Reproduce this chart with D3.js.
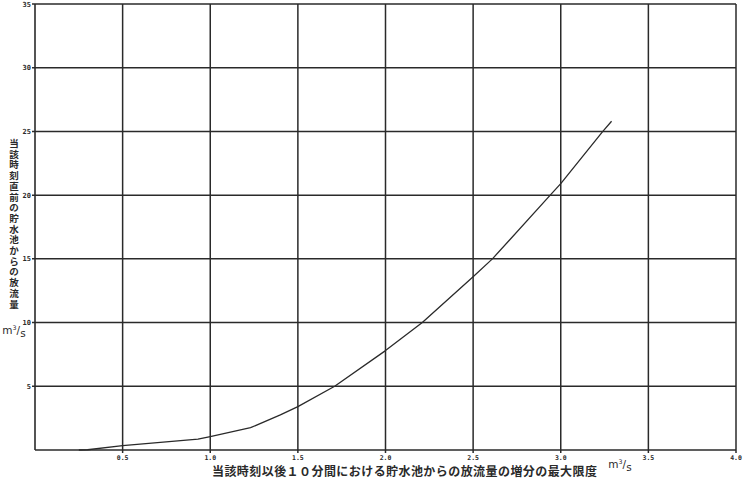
<!DOCTYPE html>
<html><head><meta charset="utf-8">
<script src="https://cdn.jsdelivr.net/npm/d3@7"></script>
<style>body{margin:0;background:#fff}svg{display:block}</style>
</head><body>
<svg id="c" width="744" height="484"></svg>
<script>
const xTicks = [0.5, 1.0, 1.5, 2.0, 2.5, 3.0, 3.5, 4.0];
const xTickLabels = ["0.5", "1.0", "1.5", "2.0", "2.5", "3.0", "3.5", "4.0"];
const yTicks = [5, 10, 15, 20, 25, 30, 35];
const yTickLabels = ["5", "10", "15", "20", "25", "30", "35"];
const curveX = [0.25, 0.3, 0.5, 0.93, 1.0, 1.23, 1.4, 1.5, 1.71, 2.0, 2.21, 2.5, 2.61, 2.94, 3.0, 3.24, 3.29];
const curveY = [0, 0.02, 0.35, 0.85, 1.05, 1.75, 2.75, 3.4, 5.0, 7.8, 10.0, 13.6, 15.0, 20.0, 20.9, 25.0, 25.8];
const yTitle = "当該時刻直前の貯水池からの放流量";
const xTitle = "当該時刻以後１０分間における貯水池からの放流量の増分の最大限度";

const svg = d3.select("#c");
const x = d3.scaleLinear().domain([0, 4]).range([35, 736]);
const y = d3.scaleLinear().domain([0, 35]).range([450, 4]);
const ink = "#2a2a2a";

// grid
svg.append("g").selectAll("line").data(yTicks).join("line")
  .attr("x1", x(0) - 3).attr("x2", x(4)).attr("y1", d => y(d)).attr("y2", d => y(d))
  .attr("stroke", ink).attr("stroke-width", 1.5);
svg.append("g").selectAll("line").data(xTicks).join("line")
  .attr("x1", d => x(d)).attr("x2", d => x(d)).attr("y1", y(35)).attr("y2", y(0) + 3)
  .attr("stroke", ink).attr("stroke-width", 1.5);
// axes lines
svg.append("line").attr("x1", x(0)).attr("x2", x(0)).attr("y1", y(35)).attr("y2", y(0))
  .attr("stroke", ink).attr("stroke-width", 1.6);
svg.append("line").attr("x1", x(0)).attr("x2", x(4)).attr("y1", y(0)).attr("y2", y(0))
  .attr("stroke", ink).attr("stroke-width", 1.6);

// tick labels
svg.append("g").selectAll("text").data(yTicks).join("text")
  .attr("x", x(0) - 4).attr("y", d => y(d) + 2.5).attr("text-anchor", "end")
  .attr("font-family", "DejaVu Sans Mono, monospace").attr("font-weight", "bold")
  .attr("font-size", 7).attr("fill", ink).text((d, i) => yTickLabels[i]);
svg.append("g").selectAll("text").data(xTicks).join("text")
  .attr("x", d => x(d)).attr("y", y(0) + 10).attr("text-anchor", "middle")
  .attr("font-family", "DejaVu Sans Mono, monospace").attr("font-weight", "bold")
  .attr("font-size", 6.5).attr("fill", ink).text((d, i) => xTickLabels[i]);

// curve
const pts = curveX.map((v, i) => [v, curveY[i]]);
svg.append("path").datum(pts)
  .attr("d", d3.line().x(d => x(d[0])).y(d => y(d[1])))
  .attr("fill", "none").attr("stroke", ink).attr("stroke-width", 1.3)
  .attr("stroke-linejoin", "round");

// y title (vertical, one character per line)
const jp = "Noto Sans CJK JP";
svg.append("g").selectAll("text").data(Array.from(yTitle)).join("text")
  .attr("x", 14).attr("y", (d, i) => 147 + i * 10.7).attr("text-anchor", "middle")
  .attr("font-family", jp).attr("font-weight", "bold").attr("font-size", 9.5)
  .attr("fill", ink).text(d => d);

function unit(cx, cy, fs) {
  const t = svg.append("text").attr("x", cx).attr("y", cy).attr("text-anchor", "middle")
    .attr("font-family", "DejaVu Sans, sans-serif").attr("font-size", fs).attr("fill", ink);
  t.append("tspan").text("m");
  t.append("tspan").attr("dy", -fs * 0.4).attr("font-size", fs * 0.6).text("3");
  t.append("tspan").attr("dy", fs * 0.4).text("/");
  t.append("tspan").attr("dy", fs * 0.25).text("s");
}
unit(14, 334, 10.5);

// x title
svg.append("text").attr("x", 212).attr("y", 476)
  .attr("font-family", jp).attr("font-weight", "bold").attr("font-size", 12)
  .attr("textLength", 385).attr("lengthAdjust", "spacing")
  .attr("fill", ink).text(xTitle);
unit(620, 468, 10.5);
</script>
</body></html>
